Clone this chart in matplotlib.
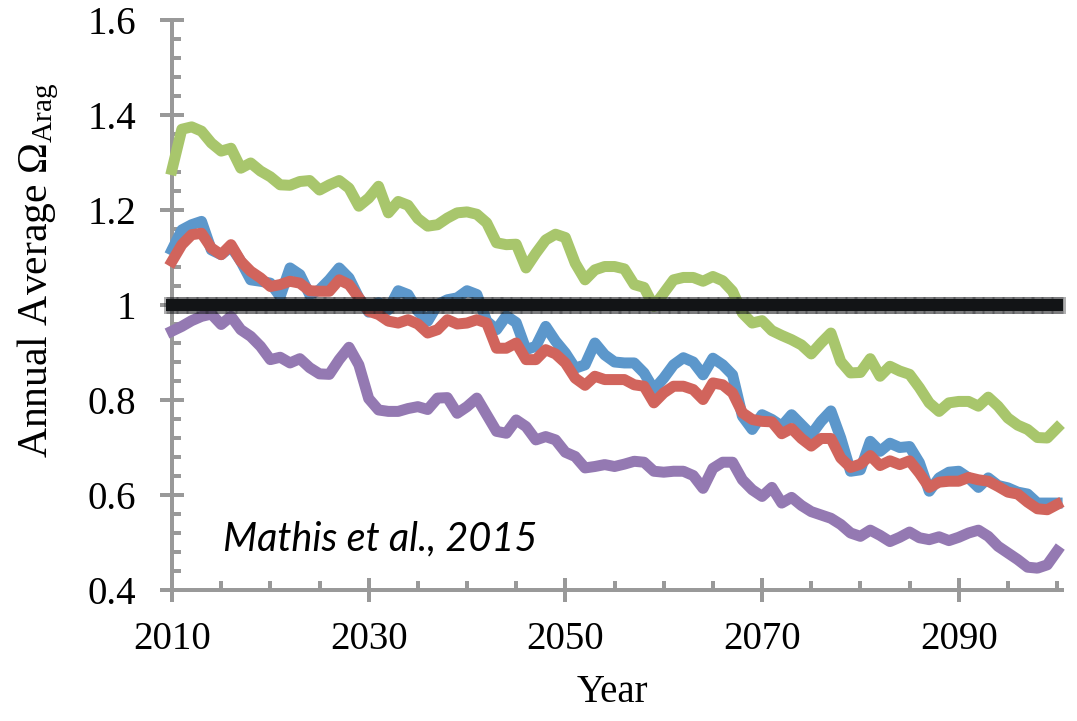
import numpy as np
import matplotlib
matplotlib.use("Agg")
import matplotlib.pyplot as plt
from matplotlib.ticker import MultipleLocator, FuncFormatter

years = list(range(2010, 2101))

green = [1.285, 1.37, 1.375, 1.366, 1.341, 1.324, 1.33, 1.288, 1.299, 1.282,
         1.27, 1.253, 1.252, 1.26, 1.262, 1.242, 1.253, 1.262, 1.246, 1.208,
         1.225, 1.25, 1.194, 1.218, 1.21, 1.182, 1.166, 1.169, 1.183, 1.194,
         1.196, 1.191, 1.173, 1.131, 1.127, 1.128, 1.078, 1.109, 1.137, 1.149,
         1.142, 1.088, 1.053, 1.074, 1.081, 1.081, 1.076, 1.043, 1.037, 0.997,
         1.025, 1.053, 1.058, 1.058, 1.05, 1.06, 1.051, 1.029, 0.983, 0.962,
         0.967, 0.946, 0.936, 0.927, 0.916, 0.897, 0.92, 0.941, 0.881, 0.857,
         0.858, 0.887, 0.85, 0.871, 0.861, 0.854, 0.826, 0.794, 0.776, 0.794,
         0.797, 0.797, 0.787, 0.806, 0.787, 0.762, 0.747, 0.738, 0.721, 0.72,
         0.741]

blue = [1.116, 1.158, 1.169, 1.176, 1.116, 1.106, 1.123, 1.092, 1.053, 1.05,
        1.046, 1.018, 1.078, 1.064, 1.022, 1.032, 1.053, 1.078, 1.057, 1.015,
        0.985, 1.005, 0.99, 1.03, 1.022, 0.987, 0.966, 1.001, 1.011, 1.015,
        1.03, 1.022, 0.966, 0.948, 0.977, 0.963, 0.906, 0.913, 0.955, 0.924,
        0.899, 0.867, 0.874, 0.92, 0.895, 0.88, 0.878, 0.878, 0.857, 0.822,
        0.846, 0.874, 0.889, 0.88, 0.853, 0.888, 0.874, 0.853, 0.766, 0.738,
        0.769, 0.759, 0.745, 0.769, 0.748, 0.727, 0.755, 0.777, 0.72, 0.65,
        0.653, 0.713, 0.692, 0.709, 0.7, 0.702, 0.668, 0.608, 0.636, 0.648,
        0.65, 0.636, 0.616, 0.636, 0.62, 0.615, 0.606, 0.602, 0.583, 0.583,
        0.583]

red = [1.092, 1.127, 1.148, 1.151, 1.12, 1.106, 1.127, 1.092, 1.071, 1.057,
       1.039, 1.043, 1.05, 1.046, 1.03, 1.029, 1.029, 1.053, 1.043, 1.015,
       0.987, 0.98, 0.966, 0.962, 0.969, 0.96, 0.941, 0.948, 0.969, 0.96,
       0.962, 0.969, 0.962, 0.909, 0.909, 0.92, 0.885, 0.885, 0.906, 0.897,
       0.878, 0.846, 0.831, 0.85, 0.843, 0.843, 0.843, 0.832, 0.829, 0.794,
       0.815, 0.829, 0.829, 0.822, 0.801, 0.836, 0.832, 0.815, 0.773, 0.759,
       0.755, 0.754, 0.729, 0.74, 0.719, 0.703, 0.719, 0.719, 0.678, 0.658,
       0.665, 0.683, 0.662, 0.672, 0.664, 0.672, 0.646, 0.616, 0.627, 0.629,
       0.629, 0.637, 0.632, 0.629, 0.618, 0.606, 0.602, 0.585, 0.571, 0.569,
       0.58]

purple = [0.945, 0.955, 0.967, 0.976, 0.981, 0.959, 0.976, 0.948, 0.934, 0.913,
          0.885, 0.89, 0.878, 0.887, 0.868, 0.855, 0.854, 0.885, 0.911, 0.874,
          0.803, 0.779, 0.776, 0.776, 0.782, 0.786, 0.78, 0.804, 0.805, 0.772,
          0.786, 0.804, 0.769, 0.734, 0.73, 0.758, 0.744, 0.716, 0.723, 0.716,
          0.69, 0.681, 0.657, 0.66, 0.664, 0.66, 0.665, 0.671, 0.669, 0.65,
          0.648, 0.65, 0.65, 0.641, 0.614, 0.656, 0.669, 0.669, 0.632, 0.611,
          0.597, 0.616, 0.583, 0.595, 0.578, 0.565, 0.558, 0.551, 0.538, 0.52,
          0.513, 0.526, 0.515, 0.502, 0.511, 0.522, 0.51, 0.506, 0.512, 0.504,
          0.511, 0.52, 0.526, 0.513, 0.492, 0.478, 0.464, 0.448, 0.446, 0.453,
          0.482]

threshold = [1.0] * len(years)

x_major = [2010, 2030, 2050, 2070, 2090]
y_major = [0.4, 0.6, 0.8, 1.0, 1.2, 1.4, 1.6]

plt.rcParams['mathtext.fontset'] = 'custom'
plt.rcParams['mathtext.rm'] = 'Liberation Serif'
plt.rcParams['mathtext.it'] = 'Liberation Serif:italic'

W, H = 1077, 721
fig = plt.figure(figsize=(W / 100, H / 100), dpi=100)
left, right, top, bottom = 172, 1062, 20, 590
ax = fig.add_axes([left / W, 1 - bottom / H, (right - left) / W, (bottom - top) / H])

px = 72 / 100  # points per pixel
lw = 11 * px
ax.plot(years, green, color='#A8C66C', lw=lw, solid_joinstyle='round', zorder=3, clip_on=False)
ax.plot(years, blue, color='#5C97CB', lw=lw, solid_joinstyle='round', zorder=4, clip_on=False)
ax.plot(years, red, color='#D1645C', lw=lw, solid_joinstyle='round', zorder=5, clip_on=False)
ax.plot(years, purple, color='#9479B2', lw=lw, solid_joinstyle='round', zorder=3, clip_on=False)
# threshold line: soft halo + dark core, extended slightly past the ends by markers
ax.plot(years, threshold, color='#1a1c1f', alpha=0.35, lw=17 * px, marker='_',
        markersize=12 * px, markeredgewidth=17 * px, zorder=6, clip_on=False)
ax.plot(years, threshold, color='#121416', lw=12 * px, marker='_', markersize=12 * px,
        markeredgewidth=12 * px, zorder=7, clip_on=False)

ax.set_xlim(2010, 2100.5)
ax.set_ylim(0.4, 1.6)

axis_gray = '#999999'
for s in ['top', 'right']:
    ax.spines[s].set_visible(False)
for s in ['left', 'bottom']:
    ax.spines[s].set_color(axis_gray)
    ax.spines[s].set_linewidth(4 * px)
    ax.spines[s].set_zorder(2)

ax.set_xticks(x_major)
ax.xaxis.set_minor_locator(MultipleLocator(5))
ax.set_yticks(y_major)
ax.yaxis.set_minor_locator(MultipleLocator(0.04))
ax.yaxis.set_major_formatter(FuncFormatter(lambda v, p: f"{v:g}"))

serif = 'Liberation Serif'
ax.tick_params(axis='both', which='major', direction='inout', length=24 * px,
               width=4 * px, color=axis_gray, labelsize=28)
ax.tick_params(axis='both', which='minor', direction='in', length=9 * px,
               width=4 * px, color=axis_gray)
ax.tick_params(axis='y', which='major', pad=17)
ax.tick_params(axis='x', which='major', pad=14)
for lab in ax.get_xticklabels() + ax.get_yticklabels():
    lab.set_fontfamily(serif)

fig.text(38 / W, 1 - 270 / H, r"Annual Average $\Omega_{\mathrm{Arag}}$", rotation=90,
         ha='center', va='center', fontsize=30, family=serif)
fig.text(612 / W, 1 - 693 / H, "Year", ha='center', va='center', fontsize=28, family=serif)
fig.text(223 / W, 1 - 550 / H, "Mathis et al., 2015",
         ha='left', va='baseline', fontsize=28.5, style='italic', family='Lato')

fig.savefig("out.png", dpi=100)
